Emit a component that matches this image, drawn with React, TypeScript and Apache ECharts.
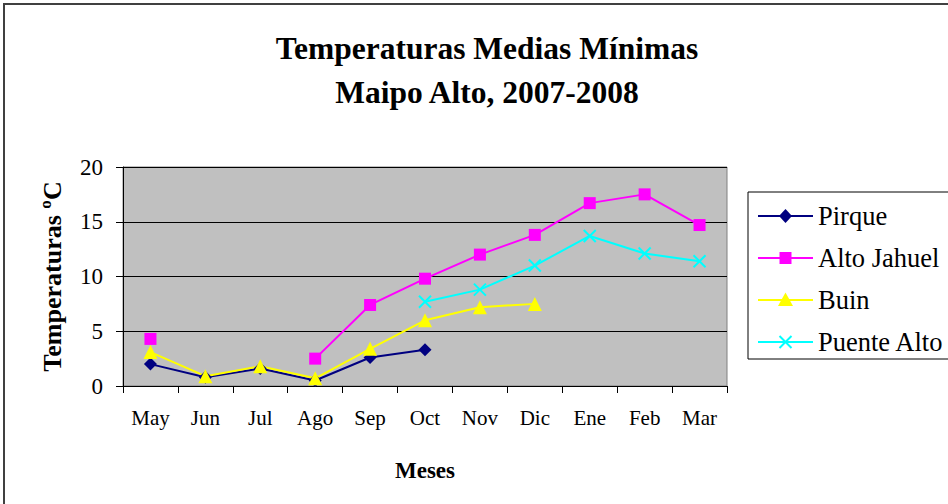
import React, { useEffect, useRef } from "react";
import * as echarts from "echarts";

const months = ["May", "Jun", "Jul", "Ago", "Sep", "Oct", "Nov", "Dic", "Ene", "Feb", "Mar"];
const pirque = [2.0, 0.8, 1.6, 0.5, 2.6, 3.3, null, null, null, null, null];
const altoJahuel = [4.3, null, null, 2.5, 7.4, 9.8, 12.0, 13.8, 16.7, 17.5, 14.7];
const buin = [3.1, 0.9, 1.8, 0.7, 3.4, 6.0, 7.2, 7.5, null, null, null];
const puenteAlto = [null, null, null, null, null, 7.7, 8.8, 11.0, 13.7, 12.1, 11.4];
const yTicks = [0, 5, 10, 15, 20];
const seriesNames = ["Pirque", "Alto Jahuel", "Buin", "Puente Alto"];
const seriesColors = ["#000080", "#FF00FF", "#FFFF00", "#00FFFF"];

const FONT = "Liberation Serif";
const crossPath = "path://M0,0L10,10M10,0L0,10";

function legendSymbol(i: number, cx: number, cy: number): any[] {
  const c = seriesColors[i];
  if (i === 0)
    return [{ type: "polygon", shape: { points: [[cx, cy - 7], [cx + 6.5, cy], [cx, cy + 7], [cx - 6.5, cy]] }, style: { fill: c } }];
  if (i === 1) return [{ type: "rect", shape: { x: cx - 6, y: cy - 6, width: 12, height: 12 }, style: { fill: c } }];
  if (i === 2)
    return [{ type: "polygon", shape: { points: [[cx, cy - 7.5], [cx + 7.5, cy + 6], [cx - 7.5, cy + 6]] }, style: { fill: c } }];
  return [
    { type: "line", shape: { x1: cx - 6, y1: cy - 6, x2: cx + 6, y2: cy + 6 }, style: { stroke: c, lineWidth: 2 } },
    { type: "line", shape: { x1: cx + 6, y1: cy - 6, x2: cx - 6, y2: cy + 6 }, style: { stroke: c, lineWidth: 2 } },
  ];
}

export default function App() {
  const ref = useRef<HTMLDivElement>(null);
  useEffect(() => {
    const chart = echarts.init(ref.current!, null, { renderer: "svg" });
    const mk = (name: string, data: any[], color: string, symbol: string, size: number) => ({
      name,
      type: "line",
      data,
      connectNulls: false,
      symbol,
      symbolSize: size,
      lineStyle: { color, width: 2 },
      itemStyle: { color },
    });

    const legendEls: any[] = [
      {
        type: "rect",
        shape: { x: 748, y: 192, width: 230, height: 167 },
        style: { fill: "#fff", stroke: "#000", lineWidth: 1 },
        silent: true,
      },
    ];
    seriesNames.forEach((n, i) => {
      const cy = 216 + i * 42;
      legendEls.push({
        type: "line",
        shape: { x1: 758, y1: cy, x2: 813, y2: cy },
        style: { stroke: seriesColors[i], lineWidth: 2 },
      });
      legendEls.push(...legendSymbol(i, 785.5, cy));
      legendEls.push({
        type: "text",
        x: 818,
        y: cy,
        style: { text: n, fontFamily: FONT, fontSize: 26.5, fill: "#000", verticalAlign: "middle", align: "left" },
      });
    });

    chart.setOption({
      animation: false,
      backgroundColor: "#ffffff",
      textStyle: { fontFamily: FONT },
      title: {
        text: "Temperaturas Medias Mínimas\nMaipo Alto, 2007-2008",
        left: 482,
        textAlign: "center",
        top: 21,
        textStyle: { fontFamily: FONT, fontSize: 31.5, fontWeight: "bold", color: "#000", lineHeight: 44 },
      },
      graphic: [
        {
          type: "rect",
          shape: { x: 4, y: 4, width: 960, height: 520 },
          style: { fill: "none", stroke: "#404040", lineWidth: 2 },
          silent: true,
        },
        ...legendEls,
      ],
      grid: {
        left: 123,
        top: 167,
        width: 604,
        height: 219,
        show: true,
        backgroundColor: "#C0C0C0",
        borderColor: "#808080",
        borderWidth: 1,
        containLabel: false,
      },
      xAxis: {
        type: "category",
        data: months,
        boundaryGap: true,
        name: "Meses",
        nameLocation: "middle",
        nameGap: 73,
        nameTextStyle: { fontFamily: FONT, fontSize: 23, fontWeight: "bold", color: "#000" },
        axisLine: { show: true, lineStyle: { color: "#000", width: 1 } },
        axisTick: { show: true, length: 7, alignWithLabel: false, lineStyle: { color: "#000" } },
        axisLabel: { fontFamily: FONT, fontSize: 21, color: "#000", margin: 21 },
        splitLine: { show: false },
      },
      yAxis: {
        type: "value",
        min: yTicks[0],
        max: yTicks[yTicks.length - 1],
        interval: 5,
        name: "Temperaturas ºC",
        nameLocation: "middle",
        nameGap: 58,
        nameRotate: 90,
        nameTextStyle: { fontFamily: FONT, fontSize: 26, fontWeight: "bold", color: "#000" },
        axisLine: { show: true, lineStyle: { color: "#000", width: 1 } },
        axisTick: { show: true, length: 7, lineStyle: { color: "#000" } },
        axisLabel: { fontFamily: FONT, fontSize: 23, color: "#000", margin: 20 },
        splitLine: { show: true, lineStyle: { color: "#000", width: 1 } },
      },
      series: [
        mk(seriesNames[0], pirque, seriesColors[0], "diamond", 13),
        mk(seriesNames[1], altoJahuel, seriesColors[1], "rect", 12),
        mk(seriesNames[2], buin, seriesColors[2], "triangle", 14),
        {
          ...mk(seriesNames[3], puenteAlto, seriesColors[3], crossPath, 12),
          itemStyle: { color: "none", borderColor: seriesColors[3], borderWidth: 2 },
        },
      ],
    });
    return () => chart.dispose();
  }, []);
  return (
    <div
      ref={ref}
      style={{ position: "fixed", left: 0, top: 0, width: 948, height: 504 }}
    />
  );
}
